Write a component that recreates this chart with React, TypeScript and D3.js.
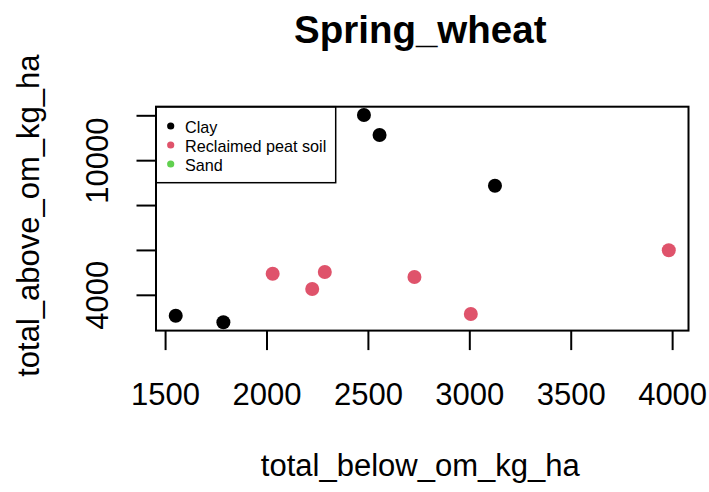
import * as d3 from "d3";

// values
const soilTypes = ["Clay", "Reclaimed peat soil", "Sand"];
const soilColors = ["#000000", "#DF536B", "#61D04F"];

const clayBelow = [2478, 2555, 3124, 1550, 1785];
const clayAbove = [12036, 11145, 8885, 3091, 2797];
const peatBelow = [2028, 2223, 2285, 2727, 3005, 3981];
const peatAbove = [4963, 4281, 5039, 4816, 3166, 6006];

const xTicks = [1500, 2000, 2500, 3000, 3500, 4000];
const yTicks = [4000, 6000, 8000, 10000, 12000];
const yTickLabels = ["4000", "", "", "10000", ""];

const W = 709;
const H = 492;
const PLOT = { left: 156, right: 688.5, top: 106.7, bottom: 330.6 };
const FONT = "'Liberation Sans', Arial, sans-serif";

type Pt = { x: number; y: number; soil: number };

const points: Pt[] = [
  ...clayBelow.map((x, i) => ({ x, y: clayAbove[i], soil: 0 })),
  ...peatBelow.map((x, i) => ({ x, y: peatAbove[i], soil: 1 })),
];

// R style 4% padding on the data range
function padded(vals: number[]): [number, number] {
  const [lo, hi] = d3.extent(vals) as [number, number];
  const p = (hi - lo) * 0.04;
  return [lo - p, hi + p];
}

export default function App() {
  const x = d3
    .scaleLinear()
    .domain(padded(points.map((d) => d.x)))
    .range([PLOT.left, PLOT.right]);
  const y = d3
    .scaleLinear()
    .domain(padded(points.map((d) => d.y)))
    .range([PLOT.bottom, PLOT.top]);

  const cx = (PLOT.left + PLOT.right) / 2;
  const cy = (PLOT.top + PLOT.bottom) / 2;

  return (
    <div style={{ position: "absolute", left: 0, top: 0 }}>
      <svg width={W} height={H} style={{ display: "block", background: "#fff" }} fontFamily={FONT}>
        <rect x={0} y={0} width={W} height={H} fill="#fff" />

        {/* title */}
        <text x={cx - 2} y={43.3} textAnchor="middle" fontSize={38.5} fontWeight="bold">
          Spring_wheat
        </text>

        {/* points */}
        {points.map((d, i) => (
          <circle key={i} cx={x(d.x)} cy={y(d.y)} r={7} fill={soilColors[d.soil]} />
        ))}

        {/* legend */}
        <rect x={PLOT.left} y={PLOT.top} width={179.7} height={76} fill="#fff" stroke="#000" strokeWidth={1.5} />
        {soilTypes.map((s, i) => (
          <g key={s}>
            <circle cx={170.7} cy={126 + i * 19} r={3.6} fill={soilColors[i]} />
            <text x={185} y={133 + i * 19} fontSize={16.2}>
              {s}
            </text>
          </g>
        ))}

        {/* plot box */}
        <rect
          x={PLOT.left}
          y={PLOT.top}
          width={PLOT.right - PLOT.left}
          height={PLOT.bottom - PLOT.top}
          fill="none"
          stroke="#000"
          strokeWidth={2}
        />

        {/* x axis */}
        {xTicks.map((t) => (
          <g key={t}>
            <line x1={x(t)} x2={x(t)} y1={PLOT.bottom} y2={PLOT.bottom + 19.5} stroke="#000" strokeWidth={2} />
            <text x={x(t)} y={405} textAnchor="middle" fontSize={31}>
              {t}
            </text>
          </g>
        ))}

        {/* y axis */}
        {yTicks.map((t, i) => (
          <g key={t}>
            <line x1={PLOT.left - 19.5} x2={PLOT.left} y1={y(t)} y2={y(t)} stroke="#000" strokeWidth={2} />
            {yTickLabels[i] && (
              <text transform={`translate(108,${y(t)}) rotate(-90)`} textAnchor="middle" fontSize={31}>
                {yTickLabels[i]}
              </text>
            )}
          </g>
        ))}

        {/* axis titles */}
        <text x={cx - 2} y={476} textAnchor="middle" fontSize={31}>
          total_below_om_kg_ha
        </text>
        <text transform={`translate(39.3,${cy - 3}) rotate(-90)`} textAnchor="middle" fontSize={31}>
          total_above_om_kg_ha
        </text>
      </svg>
    </div>
  );
}
